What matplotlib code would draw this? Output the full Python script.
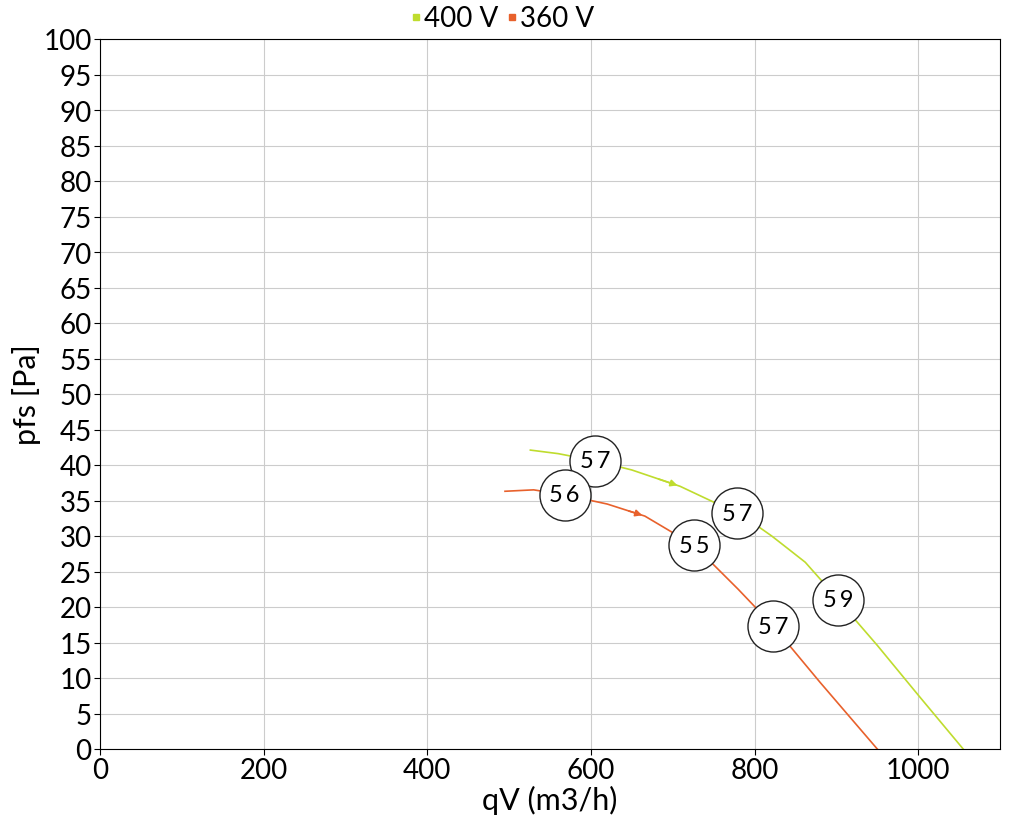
import numpy as np
import matplotlib.pyplot as plt
from matplotlib.lines import Line2D

plt.rcParams['font.family'] = ['Lato', 'DejaVu Sans']

# curve for 400 V
q_400 = [526, 560, 605, 650, 709, 779, 800, 821, 841, 862, 882, 902, 950, 1000, 1055]
p_400 = [42.1, 41.6, 40.6, 39.3, 37.0, 33.2, 31.7, 30.0, 28.2, 26.3, 23.7, 21.0, 14.6, 7.6, 0.0]
# curve for 360 V
q_360 = [495, 530, 568, 620, 666, 726, 780, 823, 880, 950]
p_360 = [36.3, 36.5, 35.8, 34.5, 32.8, 28.7, 22.5, 17.3, 9.4, 0.0]

# labelled points (qV, pfs, label)
lab_400 = [(605, 40.6, '57'), (779, 33.2, '57'), (902, 21.0, '59')]
lab_360 = [(568, 35.8, '56'), (726, 28.7, '55'), (823, 17.3, '57')]

green = '#bfdc2e'
red = '#e8612c'

fig = plt.figure(figsize=(10.2, 8.2), dpi=100)
ax = fig.add_axes([100/1020, 70/820, 900/1020, 710/820])

ax.plot(q_400, p_400, color=green, lw=1.2)
ax.plot(q_360, p_360, color=red, lw=1.2)

# little direction arrows in the middle of the curves
for q, p, c in [(q_400, p_400, green), (q_360, p_360, red)]:
    i = 4
    ax.annotate('', xy=(q[i], p[i]), xytext=(q[i-1] + (q[i]-q[i-1])*0.5, p[i-1] + (p[i]-p[i-1])*0.5),
                arrowprops=dict(arrowstyle='-|>', color=c, lw=1.2, mutation_scale=10))

for q, p, t in lab_400 + lab_360:
    ax.scatter([q], [p], s=1350, facecolor='white', edgecolor='#222222', lw=1, zorder=3)
    ax.text(q, p, '\u2009'.join(t), ha='center', va='center', fontsize=17, zorder=4)

ax.set_xlim(0, 1100)
ax.set_ylim(0, 100)
ax.set_xticks(np.arange(0, 1001, 200))
ax.set_yticks(np.arange(0, 101, 5))
ax.grid(True, color='#cccccc', lw=0.8)
ax.set_axisbelow(True)
ax.tick_params(labelsize=20, length=4, pad=2)
ax.set_xlabel('qV (m3/h)', fontsize=22, labelpad=1)
ax.set_ylabel('pfs [Pa]', fontsize=22, labelpad=2)

handles = [Line2D([], [], ls='none', marker='s', ms=5, color=green),
           Line2D([], [], ls='none', marker='s', ms=5, color=red)]
ax.legend(handles, ['400 V', '360 V'], loc='lower center', bbox_to_anchor=(0.447, 0.995),
          ncol=2, frameon=False, fontsize=20, handlelength=0.4, handletextpad=0.1,
          columnspacing=0.3, borderaxespad=0)

fig.savefig('out.png', dpi=100)
